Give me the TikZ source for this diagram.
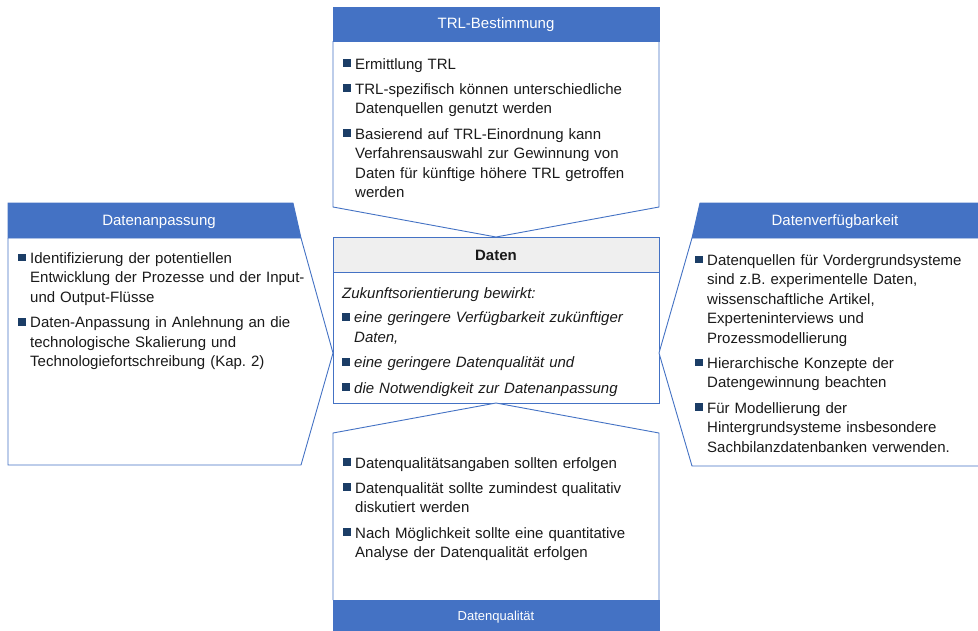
\documentclass[tikz,border=0pt]{standalone}
\usepackage{fontspec}
\setmainfont{Liberation Sans}
\frenchspacing
\definecolor{hdrblue}{HTML}{4472C4}
\definecolor{bulnavy}{HTML}{1B3D66}
\definecolor{hdrgray}{HTML}{EFEFEF}
\definecolor{bodytext}{HTML}{1A1A1A}

% square bullet followed by hanging-indented text
\newcommand{\sqbullet}{\makebox[12pt][l]{\textcolor{bulnavy}{\rule[2.2pt]{7.8pt}{7.8pt}}}}
\newcommand{\bitem}[1]{\hangindent=12pt\hangafter=1\noindent\sqbullet#1\par}
\newcommand{\igap}{\vspace{6pt}}

\tikzset{
  boxline/.style={draw=hdrblue, line width=0.9pt},
  hdrfill/.style={fill=hdrblue, draw=hdrblue, line width=0.9pt},
  hdrtext/.style={text=white, inner sep=0pt, font=\fontsize{15}{18}\selectfont},
  textblock/.style={anchor=base west, inner sep=0pt, text width=330pt, align=left,
    text=bodytext, font=\fontsize{15}{19.4}\selectfont},
}

\begin{document}
\begin{tikzpicture}[x=1pt, y=-1pt]
\useasboundingbox (0,0) rectangle (978,630);
\clip (0,0) rectangle (978,630);

% ---- TRL-Bestimmung (top, pointing down) ----
\draw[boxline, fill=white] (333,41) -- (333,207) -- (496,237) -- (659,207) -- (659,41);
\filldraw[hdrfill] (333,7) rectangle (659,41);
\node[hdrtext] (trlhead) at (496,24.5) {TRL-Bestimmung};
\node[textblock] (trltext) at (343,69) {%
  \bitem{Ermittlung TRL}\igap
  \bitem{TRL-spezifisch können unterschiedliche\newline Datenquellen genutzt werden}\igap
  \bitem{Basierend auf TRL-Einordnung kann\newline Verfahrensauswahl zur Gewinnung von\newline Daten für künftige höhere TRL getroffen\newline werden}};

% ---- Daten (centre) ----
\filldraw[fill=hdrgray, draw=hdrblue, line width=0.9pt] (333,237) rectangle (659,272);
\draw[boxline] (333,272) rectangle (659,403);
\node[inner sep=0pt, font=\fontsize{15}{18}\selectfont\bfseries, text=bodytext] (datenhead) at (496,255) {Daten};
\node[textblock, font=\fontsize{15}{19.4}\selectfont\itshape] (datentext) at (342,298.5) {%
  \noindent Zukunftsorientierung bewirkt:\par\vspace{5pt}
  \bitem{eine geringere Verfügbarkeit zukünftiger\newline Daten,}\igap
  \bitem{eine geringere Datenqualität und}\igap
  \bitem{die Notwendigkeit zur Datenanpassung}};

% ---- Datenanpassung (left, pointing right) ----
\draw[boxline, fill=white] (8,238) -- (8,465) -- (301,465) -- (333,353) -- (301,238);
\filldraw[hdrfill] (8,203) -- (293,203) -- (301,238) -- (8,238) -- cycle;
\node[hdrtext] (anphead) at (159,221.5) {Datenanpassung};
\node[textblock] (anptext) at (18,263.5) {%
  \bitem{Identifizierung der potentiellen\newline Entwicklung der Prozesse und der Input-\newline und Output-Flüsse}\igap
  \bitem{Daten-Anpassung in Anlehnung an die\newline technologische Skalierung und\newline Technologiefortschreibung (Kap. 2)}};

% ---- Datenverfügbarkeit (right, pointing left) ----
\draw[boxline, fill=white] (692,238) -- (659,353) -- (692,466) -- (990,466);
\filldraw[hdrfill] (700,203) -- (990,203) -- (990,238) -- (692,238) -- cycle;
\node[hdrtext] (verfhead) at (835,222) {Datenverfügbarkeit};
\node[textblock] (verftext) at (695,265.5) {%
  \bitem{Datenquellen für Vordergrundsysteme\newline sind z.B. experimentelle Daten,\newline wissenschaftliche Artikel,\newline Experteninterviews und\newline Prozessmodellierung}\igap
  \bitem{Hierarchische Konzepte der\newline Datengewinnung beachten}\igap
  \bitem{Für Modellierung der\newline Hintergrundsysteme insbesondere\newline Sachbilanzdatenbanken verwenden.}};

% ---- Datenqualität (bottom, pointing up) ----
\draw[boxline, fill=white] (333,600) -- (333,433) -- (496,403) -- (659,433) -- (659,600);
\filldraw[hdrfill] (333,600) rectangle (659,640);
\node[hdrtext, font=\fontsize{13}{16}\selectfont] (qualhead) at (496,617) {Datenqualität};
\node[textblock] (qualtext) at (343,468) {%
  \bitem{Datenqualitätsangaben sollten erfolgen}\igap
  \bitem{Datenqualität sollte zumindest qualitativ\newline diskutiert werden}\igap
  \bitem{Nach Möglichkeit sollte eine quantitative\newline Analyse der Datenqualität erfolgen}};
\end{tikzpicture}
\end{document}
